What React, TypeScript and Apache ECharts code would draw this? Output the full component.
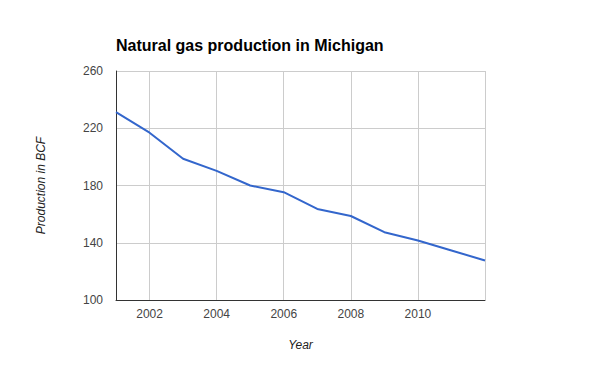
import React, { useEffect, useRef } from "react";
import * as echarts from "echarts";

const years = ["2001","2002","2003","2004","2005","2006","2007","2008","2009","2010","2011","2012"];
const production = [231.2, 216.9, 198.7, 190.2, 180, 175.3, 163.6, 158.7, 147.4, 141.6, 134.6, 127.6];
const titleText = "Natural gas production in Michigan";
const xName = "Year";
const yName = "Production in BCF";

export default function App() {
  const ref = useRef<HTMLDivElement>(null);
  useEffect(() => {
    document.body.style.margin = "0";
    const chart = echarts.init(ref.current!, null, { renderer: "svg" });
    const font = "Arial, 'Liberation Sans', sans-serif";
    chart.setOption({
      animation: false,
      backgroundColor: "#ffffff",
      title: {
        text: titleText,
        left: 111,
        top: 32,
        textStyle: { fontFamily: font, fontSize: 16, fontWeight: "bold", color: "#000" },
      },
      grid: { left: 116, top: 71, right: 115, bottom: 71 },
      xAxis: {
        type: "category",
        data: years,
        boundaryGap: false,
        name: xName,
        nameLocation: "middle",
        nameGap: 39,
        nameTextStyle: { fontFamily: font, fontSize: 12, fontStyle: "italic", color: "#222" },
        axisLine: { show: true, lineStyle: { color: "#333", width: 1 } },
        axisTick: { show: false },
        axisLabel: {
          interval: (i: number, v: string) => Number(v) % 2 === 0 && v !== "2012",
          fontFamily: font,
          fontSize: 12,
          color: "#444",
          margin: 8,
        },
        splitLine: {
          show: true,
          interval: (i: number, v: string) => Number(v) % 2 === 0,
          lineStyle: { color: "#cccccc", width: 1 },
        },
      },
      yAxis: {
        type: "value",
        min: 100,
        max: 260,
        interval: 40,
        name: yName,
        nameLocation: "middle",
        nameGap: 69,
        nameRotate: 90,
        nameTextStyle: { fontFamily: font, fontSize: 12, fontStyle: "italic", color: "#222" },
        axisLine: { show: true, lineStyle: { color: "#333", width: 1 } },
        axisTick: { show: false },
        axisLabel: { fontFamily: font, fontSize: 12, color: "#444", margin: 13 },
        splitLine: { show: true, lineStyle: { color: "#cccccc", width: 1 } },
      },
      series: [
        {
          type: "line",
          data: production,
          symbol: "none",
          lineStyle: { color: "#3366cc", width: 2 },
          itemStyle: { color: "#3366cc" },
        },
      ],
    });
    return () => chart.dispose();
  }, []);
  return <div ref={ref} style={{ width: 600, height: 371 }} />;
}
